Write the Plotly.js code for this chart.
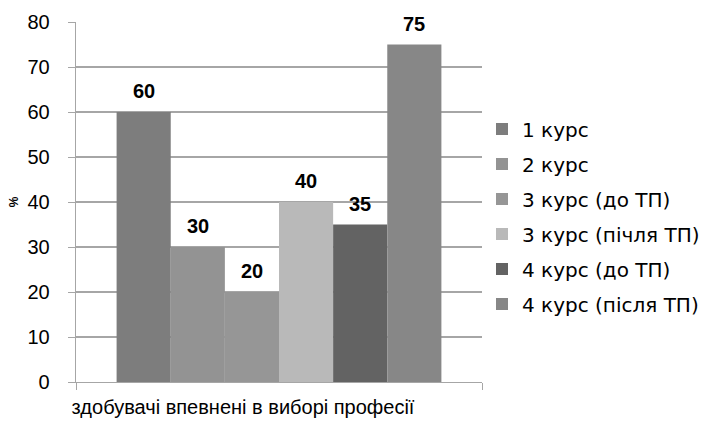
<!DOCTYPE html>
<html><head><meta charset="utf-8">
<script src="https://cdn.plot.ly/plotly-3.0.1.min.js"></script>
<style>html,body{margin:0;padding:0;background:#fff}#chart{width:717px;height:422px}</style>
</head><body><div id="chart"></div>
<script>
const categories = ["здобувачі впевнені в виборі професії"];
const seriesNames = ["1 курс", "2 курс", "3 курс (до ТП)", "3 курс (пічля ТП)", "4 курс (до ТП)", "4 курс (після ТП)"];
const seriesValues = [60, 30, 20, 40, 35, 75];
const seriesColors = ["#7d7d7d", "#939393", "#969696", "#b9b9b9", "#636363", "#878787"];
const yTicks = [0, 10, 20, 30, 40, 50, 60, 70, 80];

const font = "Liberation Sans";
const font2 = "DejaVu Sans";
const bargap = 0.2;
const n = seriesValues.length;

const traces = seriesNames.map((name, i) => ({
  type: "bar", name: name, x: categories, y: [seriesValues[i]],
  marker: {color: seriesColors[i], line: {width: 0}},
  legendgroup: "g" + i, hoverinfo: "none"
}));

const annotations = seriesValues.map((v, i) => ({
  xref: "x", yref: "y",
  x: -0.5 * (1 - bargap) + (i + 0.5) * (1 - bargap) / n,
  y: v, text: "<b>" + v + "</b>", showarrow: false,
  yanchor: "bottom", yshift: 8,
  font: {family: font, size: 20, color: "#000"}
}));

const layout = {
  width: 717, height: 422,
  margin: {l: 76, r: 229, t: 22, b: 40},
  paper_bgcolor: "#fff", plot_bgcolor: "#fff",
  barmode: "group", bargap: bargap, bargroupgap: 0,
  showlegend: true,
  font: {family: font, color: "#000"},
  legend: {x: 1.0, xanchor: "left", y: 0.46, yanchor: "middle",
    font: {family: font2, size: 20, color: "#000"}, tracegroupgap: 6,
    itemwidth: 30},
  xaxis: {type: "category", showgrid: false, showline: true, linecolor: "#a6a6a6", linewidth: 1.3,
    ticks: "outside", tickson: "boundaries", ticklen: 7, tickcolor: "#a6a6a6",
    tickfont: {family: font, size: 20, color: "#000"}, automargin: false, ticklabelstandoff: 7,
    ticklabelshift: -36},
  yaxis: {range: [0, 80], tickvals: yTicks, showgrid: true, gridcolor: "#a6a6a6", gridwidth: 1.2,
    showline: true, linecolor: "#a6a6a6", linewidth: 1.3, zeroline: false,
    ticks: "outside", ticklen: 7, tickcolor: "#a6a6a6",
    tickfont: {family: font, size: 20, color: "#000"}, ticklabelstandoff: 14, automargin: false,
    title: {text: "<b>%</b>", font: {family: font, size: 12, color: "#000"}, standoff: 6}},
  annotations: annotations
};

Plotly.newPlot("chart", traces, layout, {displayModeBar: false, staticPlot: true});
</script></body></html>
